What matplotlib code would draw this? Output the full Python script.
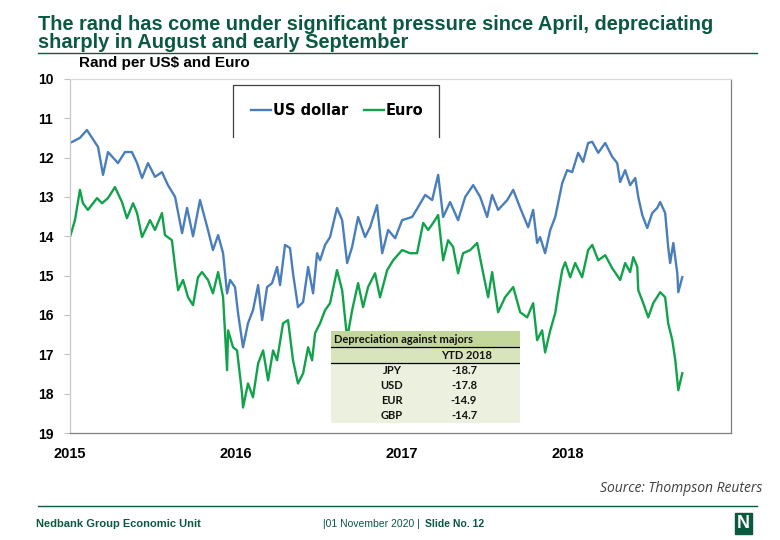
"""Rand per US$ and Euro slide chart (Nedbank Group Economic Unit)."""

import matplotlib

matplotlib.use("Agg")

import matplotlib.pyplot as plt
from matplotlib.lines import Line2D
from matplotlib.patches import Rectangle

# decimal years since 1 Jan 2015
USD_T = [0.000, 0.060, 0.102, 0.169, 0.199, 0.229, 0.289, 0.331, 0.373, 0.404,
         0.434, 0.470, 0.512, 0.554, 0.590, 0.633, 0.675, 0.705, 0.741, 0.783,
         0.831, 0.861, 0.892, 0.922, 0.946, 0.964, 0.994, 1.012, 1.042, 1.072,
         1.102, 1.133, 1.157, 1.187, 1.217, 1.247, 1.265, 1.295, 1.325, 1.343,
         1.373, 1.404, 1.434, 1.464, 1.488, 1.506, 1.536, 1.566, 1.608, 1.639,
         1.669, 1.699, 1.735, 1.777, 1.807, 1.849, 1.880, 1.916, 1.958, 2.000,
         2.060, 2.096, 2.139, 2.181, 2.217, 2.247, 2.289, 2.337, 2.380, 2.428,
         2.470, 2.512, 2.542, 2.578, 2.633, 2.669, 2.711, 2.759, 2.789, 2.813,
         2.831, 2.861, 2.892, 2.922, 2.964, 2.994, 3.024, 3.060, 3.090, 3.120,
         3.145, 3.181, 3.223, 3.265, 3.295, 3.313, 3.343, 3.373, 3.404, 3.422,
         3.446, 3.476, 3.506, 3.536, 3.554, 3.584, 3.602, 3.614, 3.633, 3.657,
         3.663, 3.687]
USD = [11.63, 11.50, 11.30, 11.73, 12.44, 11.86, 12.14, 11.86, 11.86, 12.14,
       12.52, 12.14, 12.49, 12.37, 12.70, 13.00, 13.92, 13.28, 14.00, 13.08,
       13.84, 14.35, 13.97, 14.43, 15.45, 15.11, 15.29, 15.95, 16.82, 16.21,
       15.88, 15.24, 16.13, 15.29, 15.19, 14.78, 15.24, 14.22, 14.30, 14.94,
       15.80, 15.67, 14.78, 15.45, 14.43, 14.61, 14.22, 14.02, 13.28, 13.59,
       14.68, 14.27, 13.51, 14.02, 13.77, 13.21, 14.43, 13.84, 14.05, 13.59,
       13.51, 13.26, 12.95, 13.08, 12.44, 13.51, 13.13, 13.59, 13.00, 12.70,
       13.00, 13.51, 12.95, 13.33, 13.08, 12.82, 13.28, 13.77, 13.33, 14.17,
       14.02, 14.43, 13.84, 13.51, 12.65, 12.32, 12.37, 11.88, 12.11, 11.63,
       11.60, 11.88, 11.63, 11.98, 12.14, 12.62, 12.32, 12.70, 12.52, 13.00,
       13.46, 13.79, 13.41, 13.28, 13.13, 13.41, 14.27, 14.68, 14.17, 14.94,
       15.42, 15.04]

EUR_T = [0.000, 0.030, 0.060, 0.078, 0.108, 0.163, 0.193, 0.229, 0.271, 0.313,
         0.343, 0.380, 0.404, 0.434, 0.482, 0.512, 0.554, 0.572, 0.614, 0.633,
         0.651, 0.681, 0.711, 0.741, 0.771, 0.795, 0.831, 0.861, 0.892, 0.922,
         0.946, 0.952, 0.982, 1.006, 1.036, 1.042, 1.072, 1.102, 1.133, 1.163,
         1.193, 1.223, 1.247, 1.283, 1.313, 1.343, 1.373, 1.404, 1.434, 1.458,
         1.476, 1.506, 1.536, 1.566, 1.608, 1.639, 1.669, 1.699, 1.735, 1.765,
         1.795, 1.837, 1.867, 1.910, 1.946, 2.000, 2.048, 2.090, 2.127, 2.157,
         2.187, 2.217, 2.247, 2.277, 2.307, 2.337, 2.367, 2.410, 2.452, 2.488,
         2.518, 2.542, 2.578, 2.620, 2.669, 2.711, 2.753, 2.789, 2.813, 2.843,
         2.861, 2.892, 2.922, 2.940, 2.964, 2.982, 3.012, 3.042, 3.084, 3.120,
         3.145, 3.181, 3.223, 3.265, 3.313, 3.343, 3.373, 3.392, 3.416, 3.422,
         3.452, 3.482, 3.512, 3.554, 3.584, 3.602, 3.627, 3.645, 3.663, 3.687]
EUR = [14.02, 13.59, 12.82, 13.16, 13.33, 13.03, 13.16, 13.03, 12.75, 13.13,
       13.54, 13.16, 13.41, 14.02, 13.59, 13.84, 13.41, 13.97, 14.10, 14.78,
       15.37, 15.11, 15.55, 15.75, 15.04, 14.91, 15.11, 15.45, 14.91, 15.55,
       17.40, 16.39, 16.82, 16.90, 17.99, 18.35, 17.74, 18.09, 17.23, 16.90,
       17.66, 16.90, 17.15, 16.21, 16.13, 17.15, 17.74, 17.48, 16.82, 17.15,
       16.46, 16.21, 15.88, 15.70, 14.86, 15.37, 16.60, 15.88, 15.19, 15.80,
       15.29, 14.94, 15.55, 14.86, 14.61, 14.35, 14.43, 14.43, 13.66, 13.84,
       13.66, 13.46, 14.61, 14.10, 14.27, 14.94, 14.43, 14.35, 14.17, 14.94,
       15.55, 14.91, 15.93, 15.55, 15.29, 15.93, 16.06, 15.70, 16.64, 16.39,
       16.95, 16.39, 15.95, 15.45, 14.86, 14.66, 15.04, 14.68, 15.04, 14.35,
       14.22, 14.61, 14.48, 14.81, 15.11, 14.68, 14.91, 14.53, 14.78, 15.37,
       15.70, 16.06, 15.70, 15.42, 15.55, 16.21, 16.64, 17.15, 17.91, 17.48]

YEARS = [2015, 2016, 2017, 2018]
Y_TICKS = list(range(10, 20))

TABLE_CCY = ["JPY", "USD", "EUR", "GBP"]
TABLE_YTD = [-18.7, -17.8, -14.9, -14.7]

GREEN_DARK = "#0b5a3f"
USD_COLOR = "#4a7ebb"
EUR_COLOR = "#12a24b"


def draw_table(fig):
    """Small 'Depreciation against majors' inset."""
    tax = fig.add_axes([0.4244, 0.2167, 0.2423, 0.1704])
    tax.set_xlim(0, 189)
    tax.set_ylim(92, 0)
    tax.axis("off")
    tax.add_patch(Rectangle((0, 0), 189, 16, color="#c4d79b", zorder=1))
    tax.add_patch(Rectangle((0, 16), 189, 16, color="#d8e4bc", zorder=1))
    tax.add_patch(Rectangle((0, 32), 189, 60, color="#ebf1de", zorder=1))
    tax.plot([0, 189], [16, 16], color="black", lw=0.9, zorder=2)
    tax.plot([0, 189], [32, 32], color="black", lw=0.9, zorder=2)
    font = dict(family=["Lato", "DejaVu Sans"], fontsize=8,
                color="#111111", fontweight="bold")
    tax.text(3, 8.5, "Depreciation against majors", ha="left", va="center", **font)
    tax.text(135, 24.5, "YTD 2018", ha="center", va="center", **font)
    for i, (ccy, val) in enumerate(zip(TABLE_CCY, TABLE_YTD)):
        y = 39.5 + i * 15
        tax.text(61, y, ccy, ha="center", va="center", **font)
        tax.text(146, y, f"{val:.1f}", ha="right", va="center", **font)


def main() -> None:
    plt.rcParams["font.family"] = ["Liberation Sans", "DejaVu Sans"]
    fig = plt.figure(figsize=(7.8, 5.4), dpi=100)
    ax = fig.add_axes([0.0897, 0.198, 0.8474, 0.656])

    years_usd = [2015 + t for t in USD_T]
    years_eur = [2015 + t for t in EUR_T]
    ax.plot(years_usd, USD, color=USD_COLOR, lw=1.7, label="US dollar")
    ax.plot(years_eur, EUR, color=EUR_COLOR, lw=1.7, label="Euro")

    ax.set_xlim(2015, 2018.98)
    ax.set_ylim(19, 10)
    ax.set_yticks(Y_TICKS)
    ax.set_yticklabels([str(v) for v in Y_TICKS], fontsize=10, fontweight="bold")
    ax.set_xticks(YEARS)
    ax.set_xticklabels([str(y) for y in YEARS], fontsize=10.5, fontweight="bold")
    ax.tick_params(axis="y", length=4, width=0.8, color="#bfbfbf", pad=8)
    ax.tick_params(axis="x", length=0, pad=10)
    ax.spines["left"].set_color("#c8c8c8")
    ax.spines["top"].set_color("#d9d9d9")
    ax.spines["right"].set_color("#808080")
    ax.spines["bottom"].set_color("#808080")
    for sp in ax.spines.values():
        sp.set_linewidth(0.9)

    ax.text(0.014, 1.045, "Rand per US$ and Euro", transform=ax.transAxes,
            fontsize=11, fontweight="bold", ha="left", va="center")

    # legend box, open at the bottom like the original
    ax.plot([0.2466, 0.2466, 0.558, 0.558], [0.836, 0.983, 0.983, 0.836],
            transform=ax.transAxes, color="#404040", lw=0.9, clip_on=False)
    handles = [Line2D([], [], color=USD_COLOR, lw=1.7),
               Line2D([], [], color=EUR_COLOR, lw=1.7)]
    ax.legend(handles, ["US dollar", "Euro"], loc="center",
              bbox_to_anchor=(0.404, 0.91), ncol=2, frameon=False,
              prop=dict(family="DejaVu Sans", weight="bold", size=10.5),
              handlelength=1.4, handletextpad=0.1, columnspacing=1.1)

    draw_table(fig)

    # slide furniture
    fig.text(0.049, 0.972, "The rand has come under significant pressure since April, depreciating\n"
             "sharply in August and early September", fontsize=14.4,
             fontweight="bold", color=GREEN_DARK, ha="left", va="top", linespacing=0.95)
    fig.add_artist(Line2D([0.049, 0.971], [0.902, 0.902], color=GREEN_DARK, lw=1.0))
    fig.text(0.977, 0.096, "Source: Thompson Reuters", family=["Open Sans", "DejaVu Sans"],
             fontsize=10, style="italic", color="#404040", ha="right", va="center")
    fig.add_artist(Line2D([0.049, 0.971], [0.063, 0.063], color=GREEN_DARK, lw=1.0))
    fig.text(0.046, 0.029, "Nedbank Group Economic Unit", fontsize=8,
             fontweight="bold", color=GREEN_DARK, ha="left", va="center")
    date_txt = fig.text(0.414, 0.029, "|01 November 2020 | ", fontsize=7.5,
                        color=GREEN_DARK, ha="left", va="center")
    ax.annotate("Slide No. 12", xy=(1.0, 0.5), xycoords=date_txt, xytext=(2, 0),
                textcoords="offset points", fontsize=7.5, fontweight="bold",
                color=GREEN_DARK, ha="left", va="center", annotation_clip=False)
    fig.text(0.953, 0.031, "N", fontsize=13, fontweight="heavy", color="white",
             ha="center", va="center",
             bbox=dict(boxstyle="square,pad=0.1", fc=GREEN_DARK, ec=GREEN_DARK))

    fig.savefig("out.png", dpi=100)


if __name__ == "__main__":
    main()
